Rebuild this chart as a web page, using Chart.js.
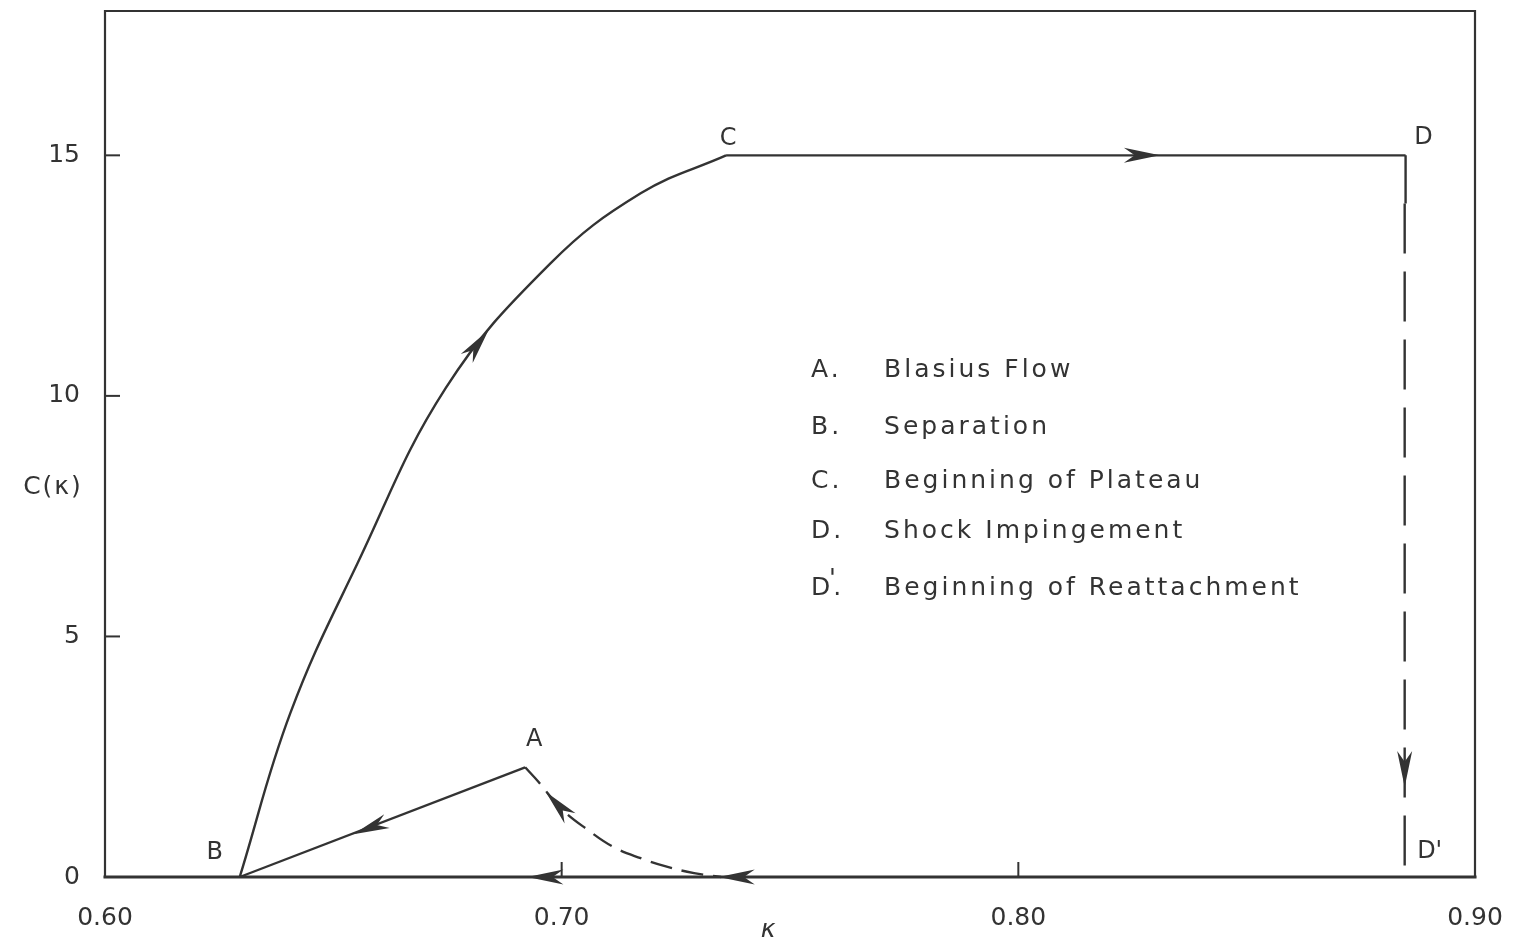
<!DOCTYPE html>
<html>
<head>
<meta charset="utf-8">
<script src="https://cdn.jsdelivr.net/npm/chart.js@4"></script>
<style>
  html, body { margin: 0; padding: 0; background: #ffffff; }
  #wrap { width: 1519px; height: 943px; }
</style>
</head>
<body>
<div id="wrap"><canvas id="flowChart" width="1519" height="943"></canvas></div>
<script>
// Axis ticks
const kappaTicks = [0.60, 0.70, 0.80, 0.90];
const cTicks = [0, 5, 10, 15];

// B -> C : rise from separation to the start of the plateau
const riseK = [0.6295, 0.6406, 0.6553, 0.6746, 0.6976, 0.7173, 0.736];
const riseC = [0, 3.41, 6.52, 10.16, 12.76, 14.21, 15.0];

// C -> D : plateau
const plateauK = [0.736, 0.8848];
const plateauC = [15.0, 15.0];

// A -> B : Blasius flow back to separation
const blasiusK = [0.692, 0.6295];
const blasiusC = [2.28, 0];

// dashed return branch ending at A
const returnK = [0.692, 0.695, 0.6998, 0.7057, 0.7114, 0.7173, 0.7232, 0.729, 0.7349];
const returnC = [2.28, 1.97, 1.43, 0.98, 0.62, 0.39, 0.21, 0.08, 0];

// D -> D' : drop to reattachment (solid stub, then dashed)
const dropSolidK = [0.8848, 0.8848];
const dropSolidC = [15.0, 14.0];
const dropDashK = [0.8846, 0.8846];
const dropDashC = [14.0, 0];

// named points on the path
const pointNames = ['A', 'B', 'C', 'D', "D'"];
const pointK = [0.692, 0.6295, 0.736, 0.8848, 0.8846];
const pointC = [2.28, 0, 15.0, 15.0, 0];
const pointDx = [9, -25, 2, 18, 25];
const pointDy = [-28, -24, -17, -18, -25];

// flow direction arrows: tip and a point behind the tip
const arrowK = [0.684, 0.831, 0.6544, 0.6965, 0.6925, 0.7344, 0.8846];
const arrowC = [11.37, 15.0, 0.89, 1.77, 0, 0, 1.87];
const arrowFromK = [0.6790, 0.82, 0.692, 0.6998, 0.70, 0.742, 0.8846];
const arrowFromC = [10.75, 15.0, 2.28, 1.43, 0, 0, 3.0];

// key
const keyLetters = ['A.', 'B.', 'C.', 'D.', 'D.'];
const keyText = ['Blasius Flow', 'Separation', 'Beginning of Plateau', 'Shock Impingement', 'Beginning of Reattachment'];
const keyC = [10.53, 9.35, 8.22, 7.18, 6.0];

const ink = '#333333';
const fontFamily = '"DejaVu Sans", sans-serif';

function toPoints(xs, ys) {
    return xs.map((x, i) => ({ x: x, y: ys[i] }));
}

function drawArrow(ctx, tx, ty, fx, fy) {
    const ang = Math.atan2(ty - fy, tx - fx);
    const L = 36, W = 15;
    ctx.save();
    ctx.translate(tx, ty);
    ctx.rotate(ang);
    ctx.beginPath();
    ctx.moveTo(0, 0);
    ctx.lineTo(-L, -W / 2);
    ctx.lineTo(-0.7 * L, 0);
    ctx.lineTo(-L, W / 2);
    ctx.closePath();
    ctx.fillStyle = ink;
    ctx.fill();
    ctx.restore();
}

// Frame, inner ticks, point letters, arrows, key and axis titles
const decorations = {
    id: 'decorations',
    afterDatasetsDraw(chart) {
        const ctx = chart.ctx;
        const xs = chart.scales.x;
        const ys = chart.scales.y;
        const a = chart.chartArea;

        ctx.save();
        ctx.strokeStyle = ink;
        ctx.lineCap = 'square';

        // frame
        ctx.lineWidth = 2.2;
        ctx.beginPath();
        ctx.moveTo(a.left, a.bottom);
        ctx.lineTo(a.left, a.top);
        ctx.lineTo(a.right, a.top);
        ctx.lineTo(a.right, a.bottom);
        ctx.stroke();
        ctx.lineWidth = 3;
        ctx.beginPath();
        ctx.moveTo(a.left, a.bottom);
        ctx.lineTo(a.right, a.bottom);
        ctx.stroke();

        // tick marks pointing into the plot
        ctx.lineWidth = 2;
        ctx.lineCap = 'butt';
        kappaTicks.slice(1, -1).forEach(v => {
            const px = xs.getPixelForValue(v);
            ctx.beginPath();
            ctx.moveTo(px, a.bottom);
            ctx.lineTo(px, a.bottom - 15);
            ctx.stroke();
        });
        cTicks.slice(1).forEach(v => {
            const py = ys.getPixelForValue(v);
            ctx.beginPath();
            ctx.moveTo(a.left, py);
            ctx.lineTo(a.left + 15, py);
            ctx.stroke();
        });

        // arrows
        arrowK.forEach((k, i) => {
            drawArrow(ctx,
                xs.getPixelForValue(k), ys.getPixelForValue(arrowC[i]),
                xs.getPixelForValue(arrowFromK[i]), ys.getPixelForValue(arrowFromC[i]));
        });

        // point letters
        ctx.fillStyle = ink;
        ctx.font = '24px ' + fontFamily;
        ctx.textAlign = 'center';
        ctx.textBaseline = 'middle';
        pointNames.forEach((name, i) => {
            const px = xs.getPixelForValue(pointK[i]) + pointDx[i];
            const py = ys.getPixelForValue(pointC[i]) + pointDy[i];
            ctx.fillText(name, px, py);
        });

        // key
        ctx.textAlign = 'left';
        ctx.font = '25px ' + fontFamily;
        const keyX = xs.getPixelForValue(0.7546);
        const textX = xs.getPixelForValue(0.7706);
        keyLetters.forEach((letter, i) => {
            const py = ys.getPixelForValue(keyC[i]);
            ctx.letterSpacing = '3px';
            ctx.fillText(letter, keyX, py);
            if (i === 4) {
                ctx.fillText("'", keyX + 18, py - 9);
            }
            ctx.fillText(keyText[i], textX, py);
        });
        ctx.letterSpacing = '0px';

        // axis titles
        ctx.textAlign = 'center';
        ctx.font = 'italic 25px ' + fontFamily;
        ctx.fillText('\u03ba', 768, 930);
        ctx.font = '25px ' + fontFamily;
        ctx.letterSpacing = '2px';
        ctx.fillText('C(\u03ba)', 53, 487);
        ctx.restore();
    }
};

const lineStyle = {
    borderColor: ink,
    borderWidth: 2.4,
    pointRadius: 0,
    fill: false,
    clip: 6
};

const chart = new Chart(document.getElementById('flowChart').getContext('2d'), {
    type: 'line',
    data: {
        datasets: [
            Object.assign({ data: toPoints(riseK, riseC), tension: 0.4 }, lineStyle),
            Object.assign({ data: toPoints(plateauK, plateauC), tension: 0 }, lineStyle),
            Object.assign({ data: toPoints(blasiusK, blasiusC), tension: 0 }, lineStyle),
            Object.assign({ data: toPoints(returnK, returnC), tension: 0.4, borderDash: [22, 10] }, lineStyle),
            Object.assign({ data: toPoints(dropSolidK, dropSolidC), tension: 0 }, lineStyle),
            Object.assign({ data: toPoints(dropDashK, dropDashC), tension: 0, borderDash: [50, 18] }, lineStyle)
        ]
    },
    options: {
        responsive: false,
        animation: false,
        events: [],
        layout: {
            padding: { top: 11, right: 44, left: 0, bottom: 0 }
        },
        plugins: {
            legend: { display: false },
            tooltip: { enabled: false }
        },
        scales: {
            x: {
                type: 'linear',
                min: 0.6,
                max: 0.9,
                border: { display: false },
                grid: { display: false, drawTicks: false },
                afterBuildTicks: scale => { scale.ticks = kappaTicks.map(v => ({ value: v })); },
                afterFit: scale => {
                    scale.height = 66;
                    scale.paddingLeft = 0;
                    scale.paddingRight = 0;
                },
                ticks: {
                    padding: 26,
                    color: ink,
                    font: { family: fontFamily, size: 25 },
                    maxRotation: 0,
                    autoSkip: false,
                    callback: v => v.toFixed(2)
                }
            },
            y: {
                type: 'linear',
                min: 0,
                max: 18,
                border: { display: false },
                grid: { display: false, drawTicks: false },
                afterBuildTicks: scale => { scale.ticks = cTicks.map(v => ({ value: v })); },
                afterFit: scale => {
                    scale.width = 105;
                    scale.paddingTop = 0;
                    scale.paddingBottom = 0;
                },
                ticks: {
                    padding: 25,
                    color: ink,
                    font: { family: fontFamily, size: 25 },
                    callback: v => String(v)
                }
            }
        }
    },
    plugins: [decorations]
});
</script>
</body>
</html>
